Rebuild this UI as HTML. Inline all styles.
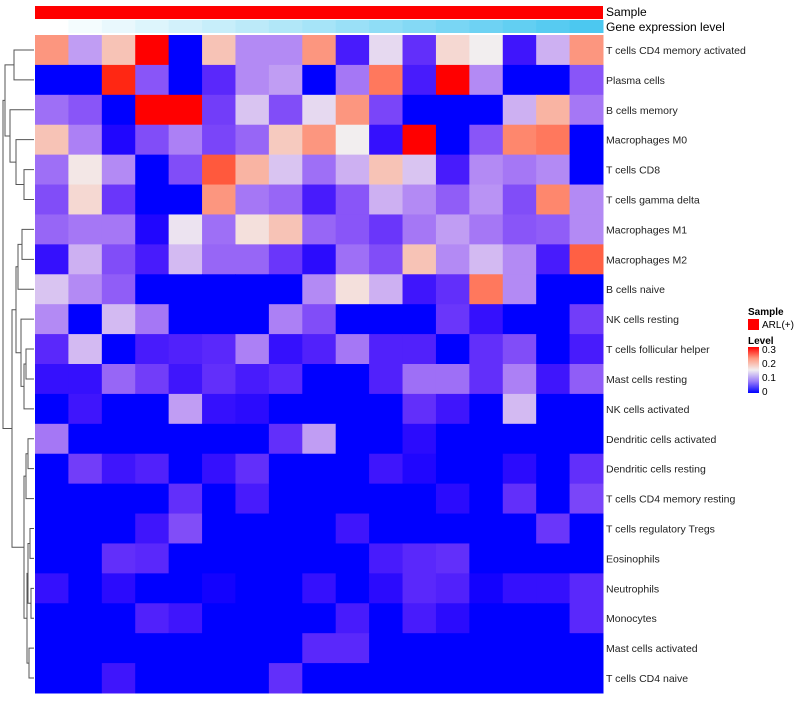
<!DOCTYPE html>
<html><head><meta charset="utf-8"><style>
body{margin:0;background:#fff;font-family:"Liberation Sans",sans-serif}
svg text{font-family:"Liberation Sans",sans-serif}
</style></head><body>
<svg id="chart" width="800" height="700" xmlns="http://www.w3.org/2000/svg">
<defs><linearGradient id="lvl" x1="0" y1="1" x2="0" y2="0">
<stop offset="0" stop-color="#0000ff"/><stop offset="0.25" stop-color="#9a7cf8"/><stop offset="0.5" stop-color="#f2eef0"/><stop offset="0.75" stop-color="#ff9a80"/><stop offset="1" stop-color="#ff0000"/></linearGradient></defs>
<g id="cells"></g>
<g id="annot"></g>
<g id="labels"></g>
<g id="dendro" stroke="#555" fill="none" stroke-width="1"></g>
<text x="606" y="16" font-size="12">Sample</text>
<text x="606" y="31" font-size="12">Gene expression level</text>
<g>
<text x="748" y="315" font-size="10" font-weight="bold">Sample</text>
<rect x="748" y="319" width="11" height="11" fill="#ff0000"/>
<text x="762" y="328" font-size="10">ARL(+)</text>
<text x="748" y="344" font-size="10" font-weight="bold">Level</text>
<rect x="748" y="347" width="11" height="46" fill="url(#lvl)"/>
<text x="762" y="353" font-size="10">0.3</text>
<text x="762" y="367" font-size="10">0.2</text>
<text x="762" y="381" font-size="10">0.1</text>
<text x="762" y="395" font-size="10">0</text>
</g>
</svg>
<script>
const rowNames=["T cells CD4 memory activated","Plasma cells","B cells memory","Macrophages M0","T cells CD8","T cells gamma delta","Macrophages M1","Macrophages M2","B cells naive","NK cells resting","T cells follicular helper","Mast cells resting","NK cells activated","Dendritic cells activated","Dendritic cells resting","T cells CD4 memory resting","T cells regulatory  Tregs","Eosinophils","Neutrophils","Monocytes","Mast cells activated","T cells CD4 naive"];
const r1=[.21,.11,.18,.3,0,.18,.10,.10,.21,.03,.14,.045,.165,.15,.025,.12,.21];
const r2=[0,0,.28,.07,0,.04,.10,.11,0,.09,.23,.03,.3,.10,0,0,.07];
const r3=[.085,.07,0,.3,.3,.055,.13,.065,.14,.21,.06,0,0,0,.12,.19,.09];
const r4=[.18,.095,.01,.065,.095,.06,.08,.175,.21,.15,.02,.3,0,.07,.22,.23,0];
const r5=[.085,.155,.10,0,.065,.25,.19,.13,.085,.12,.18,.13,.03,.10,.09,.10,0];
const r6=[.065,.165,.05,0,0,.21,.09,.08,.03,.07,.12,.10,.075,.105,.065,.22,.10];
const r7=[.08,.09,.09,.01,.145,.085,.16,.18,.08,.07,.05,.09,.11,.09,.07,.075,.10];
const r8=[.02,.12,.065,.03,.125,.08,.08,.05,.015,.085,.065,.18,.10,.125,.10,.03,.245];
const r9=[.13,.10,.075,0,0,0,0,0,.10,.16,.12,.025,.045,.23,.10,0,0];
const r10=[.10,0,.125,.09,0,0,0,.095,.065,0,0,0,.05,.02,0,0,.055];
const r11=[.04,.125,0,.03,.035,.04,.095,.02,.035,.09,.035,.035,0,.045,.065,0,.03];
const r12=[.02,.02,.08,.055,.025,.045,.03,.04,0,0,.035,.085,.085,.045,.095,.025,.075];
const r13=[0,.025,0,0,.11,.02,.015,0,0,0,0,.045,.025,0,.125,0,0];
const r14=[.09,0,0,0,0,0,0,.045,.11,0,0,.015,0,0,0,0,0];
const r15=[0,.055,.025,.035,0,.02,.045,0,0,0,.025,.01,0,0,.015,0,.045];
const r16=[0,0,0,0,.045,0,.03,0,0,0,0,0,.015,0,.045,0,.06];
const r17=[0,0,0,.025,.065,0,0,0,0,.025,0,0,0,0,0,.05,0];
const r18=[0,0,.045,.04,0,0,0,0,0,0,.03,.04,.045,0,0,0,0];
const r19=[.02,0,.015,0,0,.005,0,0,.02,0,.015,.04,.035,.005,.02,.02,.04];
const r20=[0,0,0,.035,.025,0,0,0,0,.03,0,.03,.015,0,0,0,.04];
const r21=[0,0,0,0,0,0,0,0,.04,.04,0,0,0,0,0,0,0];
const r22=[0,0,.025,0,0,0,0,.045,0,0,0,0,0,0,0,0,0];
const values=[r1,r2,r3,r4,r5,r6,r7,r8,r9,r10,r11,r12,r13,r14,r15,r16,r17,r18,r19,r20,r21,r22];
const geneLevel=[0,1,2,3,4,5,6,7,8,9,10,11,12,13,14,15,16];

const NS="http://www.w3.org/2000/svg";
const X0=35,X1=603,Y0=35,Y1=693;
const nCol=r1.length,nRow=values.length;
const cw=(X1-X0)/nCol,rh=(Y1-Y0)/nRow;
function xPos(j){return X0+j*cw;}
function yPos(i){return Y0+i*rh;}
function col(v){v=Math.max(0,Math.min(.3,v));
 if(v<=.15){const t=v/.15;
  const cr=Math.round(242*Math.pow(t,0.75)),cg=Math.round(238*Math.pow(t,1.35)),cb=Math.round(255-16*t);
  return `rgb(${cr},${cg},${cb})`;}
 const s=(v-.15)/.15;
 const cg=Math.round(238*Math.pow(1-s,0.9)),cb=Math.round(240*Math.pow(1-s,1.25)),cr=Math.round(242+13*Math.min(1,s*2));
 return `rgb(${cr},${cg},${cb})`;}
function mk(tag,attrs,parent){const el=document.createElementNS(NS,tag);for(const k in attrs)el.setAttribute(k,attrs[k]);parent.appendChild(el);return el;}
const cellsG=document.getElementById('cells');
values.forEach((row,i)=>row.forEach((v,j)=>{
 const el=mk('rect',{x:xPos(j),y:yPos(i),width:cw+0.5,height:rh+0.5,fill:col(v)},cellsG);
 
 
}));
const annotG=document.getElementById('annot');
const sampleBar=mk('rect',{x:X0,y:6,width:X1-X0,height:13,fill:'#ff0000'},annotG);


const gmax=Math.max(...geneLevel);
geneLevel.forEach((gv,j)=>{const t=gv/gmax;
 const cr=Math.round(255+(76-255)*t),cg=Math.round(255+(200-255)*t),cb=Math.round(255+(240-255)*t);
 const el=mk('rect',{x:xPos(j),y:20,width:cw+0.5,height:13,fill:`rgb(${cr},${cg},${cb})`},annotG);
 
 
});
const labelsG=document.getElementById('labels');
rowNames.forEach((nm,i)=>{const el=mk('text',{x:606,y:yPos(i)+rh/2+4,'font-size':10.5,fill:'#222'},labelsG);el.textContent=nm;
 
 
});
(function(){
const dg=document.getElementById('dendro');
const yc=i=>yPos(i)+rh/2;
function node(y1,y2,x1,x2,xm){mk('path',{d:`M${x1},${y1}H${xm}V${y2}H${x2}`},dg);return (y1+y2)/2;}
const L=34;
const n01=node(yc(0),yc(1),L,L,14);
const n45=node(yc(4),yc(5),L,L,24);
const n3=node(yc(3),n45,L,24,16);
const n2=node(yc(2),n3,L,16,10);
const nTop=node(n01,n2,14,10,5);
const n78=node(yc(6),yc(7),L,L,22);
const nM=node(n78,yc(8),22,L,18);
const n1011=node(yc(10),yc(11),L,L,26);
const nF=node(n1011,yc(12),26,L,24);
const nN=node(yc(9),nF,L,24,21);
const nMN=node(nM,nN,18,21,16);
const n1314=node(yc(13),yc(14),L,L,28);
const n15=node(n1314,yc(15),28,L,26);
const n17=node(yc(16),yc(17),L,L,30);
const n1819=node(yc(18),yc(19),L,L,31);
const nE=node(n17,n1819,30,31,28);
const nG=node(yc(20),yc(21),L,L,29);
const nEG=node(nE,nG,28,29,27);
const nLo=node(n15,nEG,26,27,24);
const nMid=node(nMN,nLo,16,24,12);
node(nTop,nMid,5,12,3);
})();
</script>
</body></html>
